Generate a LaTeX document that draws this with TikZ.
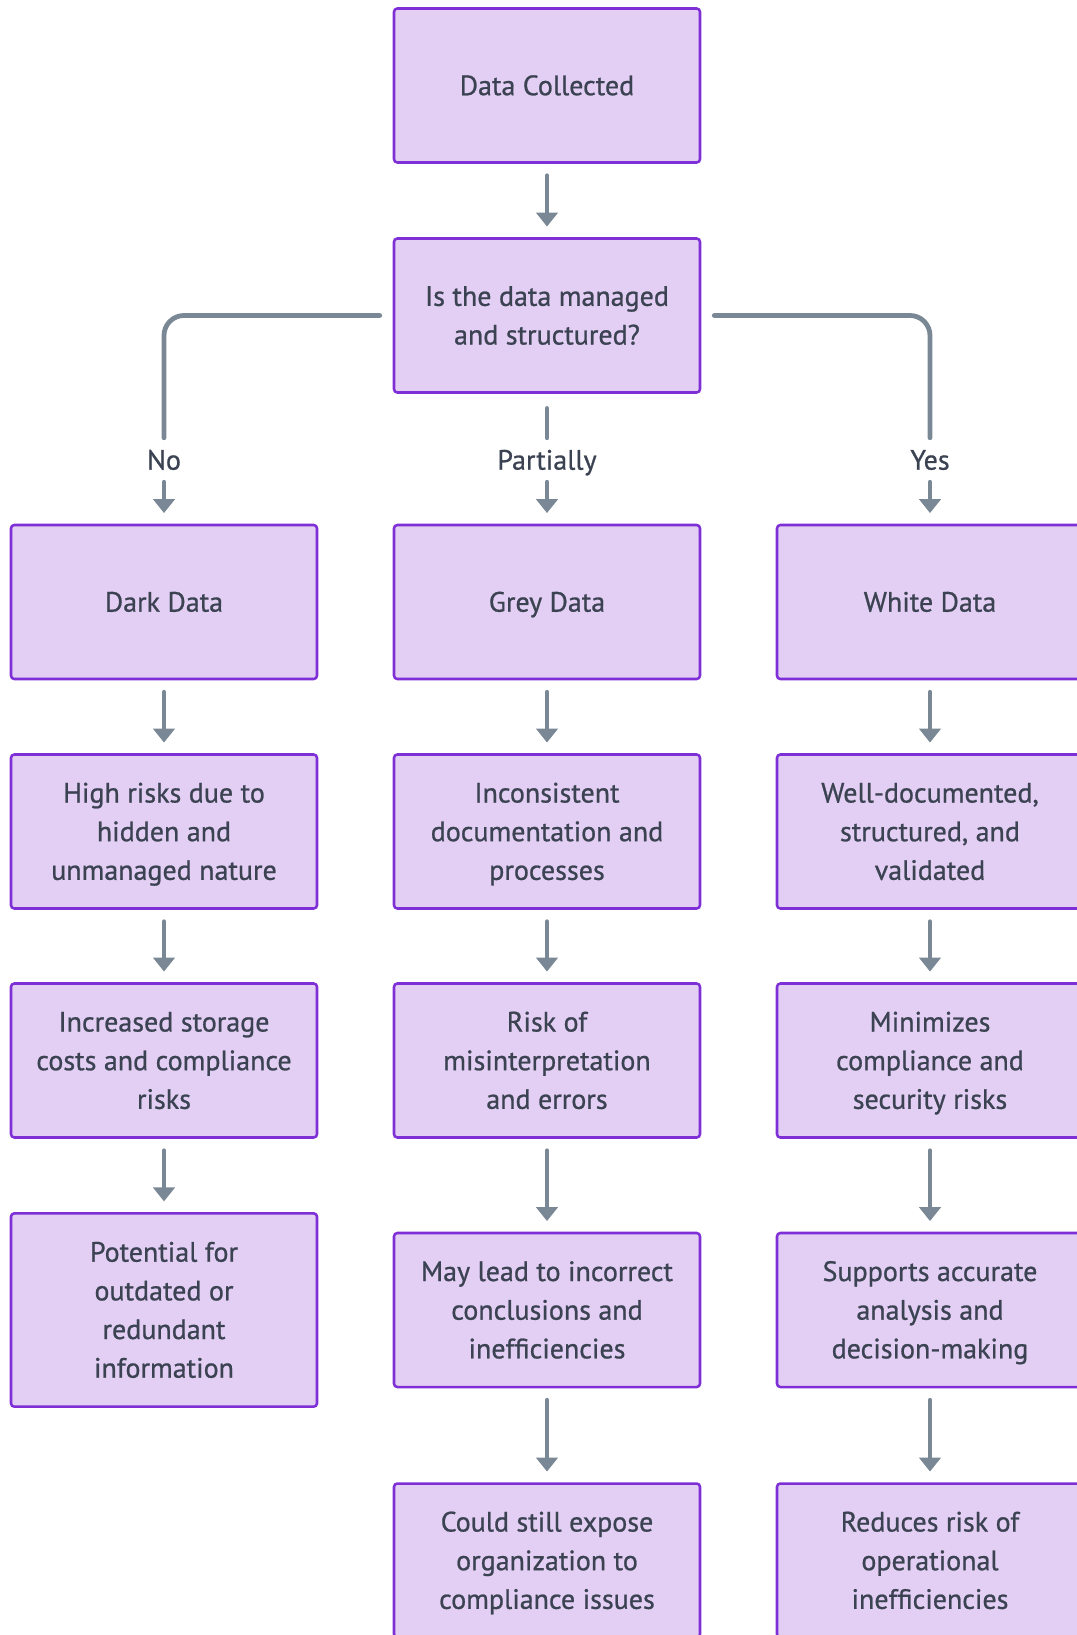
\documentclass[tikz,border=0pt]{standalone}
\usepackage{fontspec}
\setmainfont{PT Sans}[UprightFeatures={FakeBold=0.8}]
\usetikzlibrary{arrows.meta}
\definecolor{boxfill}{HTML}{E2CFF3}
\definecolor{boxline}{HTML}{7E2FD6}
\definecolor{connc}{HTML}{7A8896}
\definecolor{txt}{HTML}{3B4252}
% invisible rule that gives a text line a fixed height and depth
\newcommand\lnstrut{\rule[-7.25pt]{0pt}{29pt}}
\begin{document}
\begin{tikzpicture}[x=0.75pt,y=-0.75pt,
  txtfont/.style={font=\fontsize{21}{29}\selectfont,
    execute at begin node=\lnstrut, execute at end node=\lnstrut},
  box/.style={draw=boxline, fill=boxfill, line width=1.9pt, rounded corners=2.5pt,
    minimum width=229.5pt, minimum height=115.5pt, text=txt, align=center,
    txtfont, inner sep=0pt},
  tallbox/.style={minimum height=145pt},
  flow/.style={draw=connc, line width=3.6pt, line cap=round,
    -{Triangle[width=16pt,length=10.5pt]}, shorten <=9pt, shorten >=8pt},
  branch/.style={draw=connc, line width=3.6pt, line cap=round, rounded corners=15pt},
  lbl/.style={text=txt, txtfont, minimum height=33pt, inner sep=0pt}]
\useasboundingbox (0,0) rectangle (1076,1635);

% top of the flow
\node[box] (col) at (547,85.5) {Data Collected};
\node[box] (dec) at (547,315.5) {\lnstrut Is the data managed\\and structured?};

% branch labels
\node[lbl] (no)   at (164,460) {No};
\node[lbl] (part) at (547,460) {Partially};
\node[lbl] (yes)  at (930,460) {Yes};

% dark data column
\node[box] (dark)  at (164,602)    {Dark Data};
\node[box] (dark1) at (164,831.5)  {\lnstrut High risks due to\\hidden and\\unmanaged nature};
\node[box] (dark2) at (164,1060.5) {\lnstrut Increased storage\\costs and compliance\\risks};
\node[box,tallbox] (dark3) at (164,1310) {\lnstrut Potential for\\outdated or\\redundant\\information};

% grey data column
\node[box] (grey)  at (547,602)    {Grey Data};
\node[box] (grey1) at (547,831.5)  {\lnstrut Inconsistent\\documentation and\\processes};
\node[box] (grey2) at (547,1060.5) {\lnstrut Risk of\\misinterpretation\\and errors};
\node[box] (grey3) at (547,1310)   {\lnstrut May lead to incorrect\\conclusions and\\inefficiencies};
\node[box] (grey4) at (547,1560.5) {\lnstrut Could still expose\\organization to\\compliance issues};

% white data column
\node[box] (white)  at (930,602)    {White Data};
\node[box] (white1) at (930,831.5)  {\lnstrut Well-documented,\\structured, and\\validated};
\node[box] (white2) at (930,1060.5) {\lnstrut Minimizes\\compliance and\\security risks};
\node[box] (white3) at (930,1310)   {\lnstrut Supports accurate\\analysis and\\decision-making};
\node[box] (white4) at (930,1560.5) {\lnstrut Reduces risk of\\operational\\inefficiencies};

% connectors
\draw[flow] (col) -- (dec);
\draw[branch] ([xshift=-9.75pt]dec.west) -| (no.north);
\draw[branch] ([xshift=9.75pt]dec.east) -| (yes.north);
\draw[branch, shorten <=11pt] (dec.south) -- (part.north);
\draw[flow, shorten <=0pt] (no.south) -- (dark.north);
\draw[flow, shorten <=0pt] (part.south) -- (grey.north);
\draw[flow, shorten <=0pt] (yes.south) -- (white.north);

\draw[flow] (dark) -- (dark1);
\draw[flow] (dark1) -- (dark2);
\draw[flow] (dark2) -- (dark3);

\draw[flow] (grey) -- (grey1);
\draw[flow] (grey1) -- (grey2);
\draw[flow] (grey2) -- (grey3);
\draw[flow] (grey3) -- (grey4);

\draw[flow] (white) -- (white1);
\draw[flow] (white1) -- (white2);
\draw[flow] (white2) -- (white3);
\draw[flow] (white3) -- (white4);
\end{tikzpicture}
\end{document}
